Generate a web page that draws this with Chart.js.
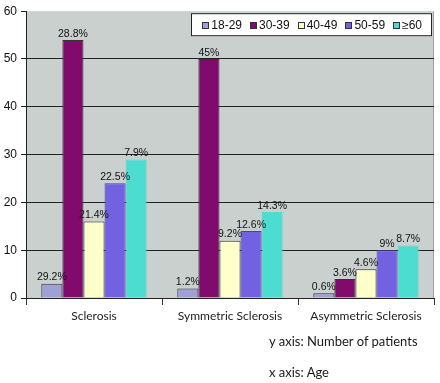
<!DOCTYPE html>
<html>
<head>
<meta charset="utf-8">
<script src="https://cdn.jsdelivr.net/npm/chart.js@4/dist/chart.umd.min.js"></script>
<style>
  body { margin: 0; background: #fff; }
  #wrap { position: relative; width: 440px; height: 383px; }
  .note { position: absolute; left: 269px; font: 13px Lato, sans-serif; color: #1a1a1a; white-space: nowrap; }
</style>
</head>
<body>
<div id="wrap">
  <canvas id="chart"></canvas>
  <div class="note" style="top:333px">y axis: Number of patients</div>
  <div class="note" style="top:364px">x axis: Age</div>
</div>
<script>
const categories = ["Sclerosis", "Symmetric Sclerosis", "Asymmetric Sclerosis"];
const ageGroups = ["18-29", "30-39", "40-49", "50-59", "≥60"];

// patients per age group, one value per category
const age18to29 = [3, 2, 1];
const age30to39 = [54, 50, 4];
const age40to49 = [16, 12, 6];
const age50to59 = [24, 14, 10];
const age60plus = [29, 18, 11];

// percentage labels printed above the bars
const pct18to29 = ["29.2%", "1.2%", "0.6%"];
const pct30to39 = ["28.8%", "45%", "3.6%"];
const pct40to49 = ["21.4%", "9.2%", "4.6%"];
const pct50to59 = ["22.5%", "12.6%", "9%"];
const pct60plus = ["7.9%", "14.3%", "8.7%"];

const yTicks = [0, 10, 20, 30, 40, 50, 60];

const series = [age18to29, age30to39, age40to49, age50to59, age60plus];
const pctLabels = [pct18to29, pct30to39, pct40to49, pct50to59, pct60plus];
const fills = ["#9ea0d6", "#800b6c", "#ffffcc", "#7262e2", "#4ddcd0"];
const edges = ["#333", "#333", "#333", "#4b3fb0", "#4ddcd0"];

// plot background, right edge line
const plotBackground = {
  id: "plotBackground",
  beforeDraw(chart) {
    const { ctx, chartArea: a } = chart;
    ctx.save();
    ctx.fillStyle = "#fff";
    ctx.fillRect(0, 0, chart.width, chart.height);
    ctx.fillStyle = "#c9d0cd";
    ctx.fillRect(a.left, a.top, a.right - a.left, a.bottom - a.top);
    ctx.strokeStyle = "#9aa19e";
    ctx.lineWidth = 1;
    ctx.beginPath();
    ctx.moveTo(a.right - 0.5, a.top);
    ctx.lineTo(a.right - 0.5, a.bottom);
    ctx.stroke();
    ctx.restore();
  },
};

// percentage text above each bar
const barLabels = {
  id: "barLabels",
  afterDatasetsDraw(chart) {
    const { ctx } = chart;
    ctx.save();
    ctx.font = "10.5px 'Liberation Sans', Arial, sans-serif";
    ctx.fillStyle = "#111";
    ctx.textAlign = "center";
    ctx.textBaseline = "bottom";
    chart.data.datasets.forEach((ds, i) => {
      chart.getDatasetMeta(i).data.forEach((bar, j) => {
        ctx.fillText(pctLabels[i][j], bar.x, bar.y - 1);
      });
    });
    ctx.restore();
  },
};

// legend box drawn inside the plot, top right
const boxLegend = {
  id: "boxLegend",
  afterDraw(chart) {
    const { ctx, chartArea: a } = chart;
    const sw = 7, gap = 2, spacing = 8, padL = 11, padR = 10, h = 23;
    ctx.save();
    ctx.font = "12px 'Liberation Sans', Arial, sans-serif";
    const items = chart.data.datasets.map((ds) => ({
      text: ds.label,
      fill: ds.backgroundColor,
      w: ctx.measureText(ds.label).width,
    }));
    let total = padL + padR;
    items.forEach((it, k) => { total += sw + gap + it.w + (k ? spacing : 0); });
    const right = a.right - 2, top = a.top + 2;
    const left = right - total;
    ctx.fillStyle = "#fff";
    ctx.fillRect(left, top, total, h);
    ctx.strokeStyle = "#222";
    ctx.lineWidth = 1;
    ctx.strokeRect(Math.round(left) + 0.5, top + 0.5, Math.round(total) - 1, h - 1);
    let x = left + padL;
    const cy = top + h / 2 + 1;
    ctx.textBaseline = "middle";
    ctx.textAlign = "left";
    items.forEach((it) => {
      ctx.fillStyle = it.fill;
      ctx.fillRect(Math.round(x), Math.round(cy - sw / 2), sw, sw);
      ctx.strokeStyle = "#333";
      ctx.strokeRect(Math.round(x) + 0.5, Math.round(cy - sw / 2) + 0.5, sw - 1, sw - 1);
      ctx.fillStyle = "#111";
      ctx.fillText(it.text, x + sw + gap, cy);
      x += sw + gap + it.w + spacing;
    });
    ctx.restore();
  },
};

new Chart(document.getElementById("chart"), {
  type: "bar",
  data: {
    labels: categories,
    datasets: ageGroups.map((g, i) => ({
      label: g,
      data: series[i],
      backgroundColor: fills[i],
      borderColor: edges[i],
      borderWidth: 1,
      categoryPercentage: 0.775,
      barPercentage: 1.0,
    })),
  },
  options: {
    responsive: true,
    maintainAspectRatio: false,
    animation: false,
    layout: { padding: { top: 9, right: 6, left: 0, bottom: 0 } },
    plugins: {
      legend: { display: false },
      tooltip: { enabled: false },
    },
    scales: {
      x: {
        afterFit: (s) => { s.height = 85; },
        grid: { offset: true, drawOnChartArea: false, drawTicks: true, tickLength: 7, color: "#333" },
        border: { color: "#222", width: 1 },
        ticks: { color: "#222", padding: 4, font: { family: "Lato, sans-serif", size: 12 } },
      },
      y: {
        min: 0,
        max: 60,
        afterFit: (s) => { s.width = 26; },
        afterBuildTicks: (s) => { s.ticks = yTicks.map((v) => ({ value: v })); },
        grid: {
          color: (c) => (c.tick && c.tick.value === 60 ? "rgba(0,0,0,0)" : "#222"),
          tickColor: "#222",
          tickLength: 5,
        },
        border: { color: "#222", width: 1 },
        ticks: { color: "#111", padding: 4, font: { family: "'Liberation Sans', Arial, sans-serif", size: 12 } },
      },
    },
  },
  plugins: [plotBackground, barLabels, boxLegend],
});
</script>
</body>
</html>
